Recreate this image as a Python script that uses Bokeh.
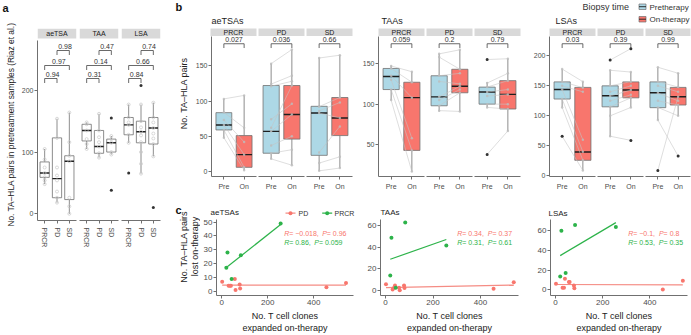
import numpy as np
from bokeh.plotting import figure
from bokeh.layouts import row, column
from bokeh.models import Range1d, FixedTicker, ColumnDataSource
from bokeh.core.properties import value
from bokeh.embed import file_html
from bokeh.resources import INLINE

# ------------------------------------------------------------------ data
# Panel a: pretreatment samples (Riaz et al.); stats = [low whisker, Q1, median, Q3, high whisker]
a_groups = ["aeTSA", "TAA", "LSA"]
a_responses = ["PRCR", "PD", "SD"]
a_ylabel = "No. TA–HLA pairs in pretreatment samples (Riaz et al.)"
a_stats_aetsa = [[48, 59, 66, 84, 105], [18, 26, 57, 123, 154], [0, 23, 85, 94, 164]]
a_stats_taa = [[105, 118, 135, 145, 148], [91, 98, 109, 135, 162], [96, 100, 115, 121, 126]]
a_stats_lsa = [[115, 128, 144, 156, 177], [65, 115, 133, 150, 177], [93, 113, 139, 156, 180]]
a_out_aetsa = [[], [], []]
a_out_taa = [[], [], [155, 38]]
a_out_lsa = [[66], [208], [10]]
a_pts_aetsa = [[105, 88, 75, 66, 59, 54, 48], [154, 123, 75, 62, 54, 36, 26, 18], [164, 116, 94, 85, 26, 12, 0]]
a_pts_taa = [[148, 145, 135, 121, 113, 105], [162, 135, 124, 116, 109, 98, 91], [126, 121, 115, 100, 96]]
a_pts_lsa = [[177, 156, 148, 144, 128, 115], [177, 150, 140, 133, 127, 116, 100, 81, 65],
             [180, 156, 148, 139, 130, 122, 113, 93]]
a_pairs = [(1, 2), (1, 3), (2, 3)]
a_pvals_aetsa = ["0.94", "0.97", "0.98"]
a_pvals_taa = ["0.31", "0.14", "0.47"]
a_pvals_lsa = ["0.84", "0.66", "0.74"]

# Panel b: pre vs on therapy
b_antigens = ["aeTSAs", "TAAs", "LSAs"]
b_responses = ["PRCR", "PD", "SD"]
b_times = ["Pre", "On"]
b_legend_title = "Biopsy time"
b_legend = ["Pretherapy", "On-therapy"]
b_ylabel = "No. TA–HLA pairs"
b_aetsa_pre = [[48, 59, 66, 83.5, 103], [18, 26, 57, 122, 153], [1, 23, 83, 92.5, 161.5]]
b_aetsa_on = [[2, 6, 24, 51, 108], [9, 46, 81, 122, 173], [5, 51, 76, 105, 165]]
b_aetsa_pre_out = [[], [], []]
b_aetsa_on_out = [[], [], []]
b_aetsa_pre_pts = [[103, 84, 73, 66, 59, 48], [153, 124, 121, 74, 62, 57, 37, 26, 18], [161, 92, 86, 83, 27, 12, 1]]
b_aetsa_on_pts = [[108, 62, 42, 24, 6, 2], [173, 136, 128, 96, 122, 81, 50, 31, 9], [165, 105, 98, 76, 64, 21, 5]]
b_aetsa_p = ["0.027", "0.036", "0.66"]

b_taa_pre = [[105, 118, 134, 144, 147.5], [91, 98, 109, 135, 162], [96, 100, 115, 121, 127]]
b_taa_on = [[17, 43, 108, 127, 140], [91, 114, 122, 143, 167], [67, 94, 112, 129, 156]]
b_taa_pre_out = [[], [], [155, 38]]
b_taa_on_out = [[], [], []]
b_taa_pre_pts = [[147, 144, 135, 130, 118, 105], [162, 158, 135, 128, 109, 105, 98, 92],
                 [155, 126, 121, 115, 110, 100, 96, 38]]
b_taa_on_pts = [[140, 127, 108, 58, 43, 17], [167, 143, 138, 125, 122, 118, 114, 91],
                [156, 138, 129, 118, 112, 100, 94, 67]]
b_taa_p = ["0.059", "0.2", "0.79"]

b_lsa_pre = [[114, 128, 144, 156.6, 177.6], [65.6, 115, 133.5, 150, 176], [93, 113.6, 138.4, 156.6, 180.5]]
b_lsa_on = [[9.3, 25.8, 39.7, 147.4, 156.6], [114, 130, 143, 156.6, 173], [100, 118, 131.8, 147.4, 171.5]]
b_lsa_pre_out = [[66], [193], [9]]
b_lsa_on_out = [[], [212, 59], [33]]
b_lsa_pre_pts = [[178, 157, 150, 144, 128, 114, 66], [193, 176, 150, 140, 133, 125, 115, 100, 66],
                 [181, 157, 150, 138, 125, 114, 93, 9]]
b_lsa_on_pts = [[157, 147, 140, 60, 40, 26, 9], [212, 173, 157, 150, 143, 135, 130, 114, 59],
                [171, 148, 140, 125, 118, 100, 33, 132]]
b_lsa_p = ["0.03", "0.39", "0.99"]

# Panel c: clones expanded vs pairs lost
c_groups = ["PD", "PRCR"]
c_xlabel = "No. T cell clones\nexpanded on-therapy"
c_ylabel = ["No. TA–HLA pairs", "lost on-therapy"]
c_pd_clones = [2, 30, 36, 40, 57, 60, 78, 80, 455, 540]
c_prcr_clones = [20, 25, 43, 83, 256]
c_aetsa_pd = [7, 4, 4, 4, 9, 1, 5, 2, 3, 6]
c_aetsa_prcr = [17, 28, 9, 26, 49]
c_taa_pd = [6, 1.2, 2.8, 5, 2.8, 0.5, 5, 2.6, 2, 8]
c_taa_prcr = [14, 48.5, 2.9, 62.5, 41.5]
c_lsa_pd = [6, 2, 2, 11, 7.7, 7.7, 4.3, 1.4, 0, 9]
c_lsa_prcr = [13.3, 60, 17, 66, 64]
c_ann_aetsa = ["R = −0.018, P = 0.96", "R = 0.86, P = 0.059"]
c_ann_taa = ["R = 0.34, P = 0.37", "R = 0.31, P = 0.61"]
c_ann_lsa = ["R = −0.1, P = 0.8", "R = 0.53, P = 0.35"]

# ------------------------------------------------------------------ style
FONT = "Liberation Sans"
AX = "#707070"
TICK_TXT = "#4D4D4D"
LBL_TXT = "#222222"
STRIP = "#D9D9D9"
BLUE = "#ADD8E6"
RED = "#F8766D"
GREEN = "#2DB34A"
LINE_RED = "#F58C84"
MED = "#1E1E1E"
PT = "#BDBDBD"

# Arial / Liberation Sans advance widths (em)
AW = {" ": .278, "(": .333, ")": .333, ".": .278, ",": .278, "-": .333, "–": .556, "=": .584, "−": .584,
      "A": .667, "H": .722, "L": .556, "N": .722, "P": .667, "R": .722, "T": .611,
      "a": .556, "e": .556, "h": .556, "i": .222, "l": .222, "m": .833, "n": .556, "o": .556,
      "p": .556, "r": .333, "s": .5, "t": .278, "y": .5, "z": .5}


def tlen(s, size):
    return sum(AW.get(ch, 0.556) for ch in s) * size


def base_fig(w, h, xr, yr, lb, rb, tb, bb, x_axis=True, y_axis=True):
    p = figure(width=w, height=h, x_range=Range1d(*xr), y_range=Range1d(*yr),
               output_backend="svg", toolbar_location=None, title=None,
               min_border_left=lb, min_border_right=rb, min_border_top=tb, min_border_bottom=bb,
               x_axis_location="below" if x_axis else None,
               y_axis_location="left" if y_axis else None)
    p.xgrid.visible = False
    p.ygrid.visible = False
    p.outline_line_color = None
    p.background_fill_color = "white"
    p.border_fill_color = "white"
    return p


def text_fig(x0, x1, top, bottom):
    """blank figure whose data coordinates are page pixels (y negated so it points up)"""
    return base_fig(x1 - x0, bottom - top, (x0, x1), (-bottom, -top), 0, 0, 0, 0, x_axis=False, y_axis=False)


def head_fig(x0, x1, top, bottom):
    """blank figure whose data coordinates are page pixels (y pointing down)"""
    return base_fig(x1 - x0, bottom - top, (x0, x1), (bottom, top), 0, 0, 0, 0, x_axis=False, y_axis=False)


def style_axis(ax, size, ticks, overrides=None, standoff=2, tick_out=3):
    ax.ticker = FixedTicker(ticks=ticks)
    ax.axis_line_color = AX
    ax.axis_line_width = 1
    ax.major_tick_line_color = AX
    ax.minor_tick_line_color = None
    ax.major_tick_in = 0
    ax.major_tick_out = tick_out
    ax.major_label_text_font = FONT
    ax.major_label_text_font_size = size
    ax.major_label_text_color = TICK_TXT
    ax.major_label_standoff = standoff
    ax.axis_label_text_font = FONT
    ax.axis_label_text_font_style = "normal"
    ax.axis_label_text_color = LBL_TXT
    ax.axis_label_text_font_size = "9px"
    if overrides:
        ax.major_label_overrides = overrides


def py(yr, fh, px):
    """data y at px below the frame top"""
    return yr[1] - px * (yr[1] - yr[0]) / fh


def txt(p, x, y, t, size, color=LBL_TXT, align="left", baseline="middle", style="normal", angle=0):
    p.text(x=x, y=y, text=t, text_font=value(FONT), text_font_size=size, text_color=color,
           text_align=align, text_baseline=baseline, text_font_style=style, angle=angle)


def vlabel(p, x, center_y, s, size):
    """vertical label reading upwards, centred on page y = center_y"""
    start = center_y + tlen(s, size) / 2
    txt(p, [x], [-start], [s], "%dpx" % size, LBL_TXT, "left", "middle", angle=np.pi / 2)


def draw_boxes(p, xs, stats, fills, width, line_w=0.8):
    s = np.array(stats, dtype=float)
    xs = np.asarray(xs, dtype=float)
    src = ColumnDataSource(dict(x=xs, lo=s[:, 0], q1=s[:, 1], med=s[:, 2], q3=s[:, 3], hi=s[:, 4],
                                l=xs - width / 2, r=xs + width / 2, fill=fills))
    p.segment("x", "q3", "x", "hi", source=src, line_color=AX, line_width=line_w)
    p.segment("x", "q1", "x", "lo", source=src, line_color=AX, line_width=line_w)
    p.vbar(x="x", width=width, bottom="q1", top="q3", fill_color="fill", line_color=AX,
           line_width=line_w, source=src)
    p.segment("l", "med", "r", "med", source=src, line_color=MED, line_width=1.4)


# ------------------------------------------------------------------ panel a
A_W, A_HDR, A_H = 170, 20, 315
A_TOP, A_FH, A_FW = 8, 192, 39
A_Y = (-10.9, 300.2)
A_X = (0.42, 3.58)
A_BW = 0.75
a_borders = [(37, 2), (1, 2), (1, 10)]
a_all = [(a_stats_aetsa, a_out_aetsa, a_pts_aetsa, a_pvals_aetsa),
         (a_stats_taa, a_out_taa, a_pts_taa, a_pvals_taa),
         (a_stats_lsa, a_out_lsa, a_pts_lsa, a_pvals_lsa)]

ha = head_fig(0, A_W, 0, A_HDR)
txt(ha, [2], [13.5], ["a"], "11px", "#111111", "left", "bottom", "bold")

a_figs = []
for gi, (stats, outs, pts, pvals) in enumerate(a_all):
    lb, rb = a_borders[gi]
    p = base_fig(lb + A_FW + rb, A_H, A_X, A_Y, lb, rb, A_TOP, A_H - A_TOP - A_FH, y_axis=(gi == 0))
    yb = py(A_Y, A_FH, 10)
    p.quad(left=[A_X[0]], right=[A_X[1]], bottom=[yb], top=[A_Y[1]], fill_color=STRIP, line_color=None)
    txt(p, [(A_X[0] + A_X[1]) / 2], [(yb + A_Y[1]) / 2], [a_groups[gi]], "7px", "#1A1A1A", "center")
    xs = np.arange(1, len(a_responses) + 1)
    draw_boxes(p, xs, stats, ["white"] * 3, A_BW)
    px_, py_ = [], []
    for k, v in enumerate(pts):
        px_ += [xs[k]] * len(v)
        py_ += v
    p.scatter(px_, py_, size=3, fill_color=None, line_color="#C9C9C9", line_width=0.7)
    ox, oy = [], []
    for k, v in enumerate(outs):
        ox += [xs[k]] * len(v)
        oy += v
    p.scatter(ox, oy, size=3, fill_color="#333333", line_color=None)
    for (i, j), lp, pv in zip(a_pairs, [50, 37, 22], pvals):
        yl, yt = py(A_Y, A_FH, lp), py(A_Y, A_FH, lp + 4.5)
        p.line([i, i, j, j], [yt, yl, yl, yt], line_color="#444444", line_width=0.8)
        txt(p, [(i + j) / 2 + 0.15], [py(A_Y, A_FH, lp - 2)], [pv], "7px", "#333333", "center", "bottom")
    xa = p.xaxis[0]
    style_axis(xa, "7px", list(xs), {int(x): r for x, r in zip(xs, a_responses)}, standoff=4)
    xa.major_label_orientation = "vertical"
    if gi == 0:
        ya = p.yaxis[0]
        style_axis(ya, "7px", [0, 100, 200], standoff=1)
        ya.bounds = (A_Y[0], py(A_Y, A_FH, 12))
        ya.axis_label = a_ylabel
        ya.axis_label_text_font_size = "8.4px"
        ya.axis_label_standoff = 3
    a_figs.append(p)

# ------------------------------------------------------------------ panel b
B_HDR, B_FH, B_BB = 36, 141, 15
B_X = (0.39, 2.61)
B_BW = 0.78
B_LBL_W = 22
b_yranges = [(-7.0, 191.5), (10.8, 183.4), (-1.2, 232.3)]
b_yticks = [[0, 50, 100, 150], [50, 100, 150], [0, 50, 100, 150, 200]]
b_borders = [[(18, 1), (1, 1), (1, 1)], [(25, 1), (1, 1), (1, 1)], [(28, 1), (1, 1), (1, 1)]]
b_fws = [[46, 46, 46], [46, 46, 46], [46, 46, 45]]
b_all = [(b_aetsa_pre, b_aetsa_on, b_aetsa_pre_out, b_aetsa_on_out, b_aetsa_pre_pts, b_aetsa_on_pts, b_aetsa_p),
         (b_taa_pre, b_taa_on, b_taa_pre_out, b_taa_on_out, b_taa_pre_pts, b_taa_on_pts, b_taa_p),
         (b_lsa_pre, b_lsa_on, b_lsa_pre_out, b_lsa_on_out, b_lsa_pre_pts, b_lsa_on_pts, b_lsa_p)]

lbf = text_fig(170, 170 + B_LBL_W, B_HDR, B_HDR + B_FH + B_BB)
vlabel(lbf, 183.3, 103, b_ylabel, 9)
b_figs = [lbf]
frame_spans = []
xcur = 170 + B_LBL_W
for ai, (pre, on, pre_o, on_o, pre_p, on_p, pv) in enumerate(b_all):
    yr = b_yranges[ai]
    for ri in range(3):
        lb, rb = b_borders[ai][ri]
        fw = b_fws[ai][ri]
        frame_spans.append((xcur + lb, xcur + lb + fw))
        xcur += lb + fw + rb
        p = base_fig(lb + fw + rb, B_FH + B_BB, B_X, yr, lb, rb, 0, B_BB, y_axis=(ri == 0))
        xs = np.array([1, 2])
        draw_boxes(p, xs, [pre[ri], on[ri]], [BLUE, RED], B_BW)
        n = len(pre_p[ri])
        p.multi_line(xs=[[1, 2]] * n, ys=[[a, b] for a, b in zip(pre_p[ri], on_p[ri])],
                     line_color="#C4C4C4", line_alpha=0.8, line_width=0.7)
        p.scatter([1] * n + [2] * n, pre_p[ri] + on_p[ri], size=2.5, fill_color=PT, line_color=None,
                  fill_alpha=0.8)
        ox = [1] * len(pre_o[ri]) + [2] * len(on_o[ri])
        p.scatter(ox, pre_o[ri] + on_o[ri], size=3, fill_color="#333333", line_color=None)
        yl, yt = py(yr, B_FH, 7.3), py(yr, B_FH, 11.6)
        p.line([1, 1, 2, 2], [yt, yl, yl, yt], line_color="#444444", line_width=0.8)
        txt(p, [1.5], [py(yr, B_FH, 6.0)], [pv[ri]], "7px", "#333333", "center", "bottom")
        xa = p.xaxis[0]
        style_axis(xa, "7px", [1, 2], {1: b_times[0], 2: b_times[1]}, standoff=3)
        if ri == 0:
            ya = p.yaxis[0]
            style_axis(ya, "7px", b_yticks[ai], standoff=1)
        b_figs.append(p)

# header for panel b
hb = head_fig(170, 691, 0, B_HDR)
txt(hb, [175], [12], ["b"], "11px", "#111111", "left", "bottom", "bold")
txt(hb, [211, 381, 555], [20, 20, 20], b_antigens, "9px", LBL_TXT)
hb.quad(left=[s[0] for s in frame_spans], right=[s[1] for s in frame_spans],
        bottom=[35.5] * 9, top=[28] * 9, fill_color=STRIP, line_color=None)
txt(hb, [(s[0] + s[1]) / 2 for s in frame_spans], [31.9] * 9, b_responses * 3, "7px", "#1A1A1A", "center")
txt(hb, [582], [6.5], [b_legend_title], "9px", "#333333")
hb.quad(left=[638.5, 638.5], right=[645.5, 645.5], top=[3.5, 16], bottom=[9, 21.5],
        fill_color=[BLUE, RED], line_color=AX, line_width=0.7)
hb.segment(x0=[638.5, 638.5], x1=[645.5, 645.5], y0=[6.2, 18.7], y1=[6.2, 18.7], line_color=MED, line_width=0.9)
txt(hb, [649, 649], [6.5, 18.8], b_legend, "8px", "#333333")

# ------------------------------------------------------------------ panel c
C_TOP, C_HDR, C_H = 192, 27, 116
C_LBL_W = 30
c_layout = [(14, 139, 7, 79), (20, 138, 7, 78), (25, 137, 4, 78)]
c_xranges = [(-22.7, 572.6), (-21.1, 560.0), (-21.2, 559.8)]
c_yranges = [(-3.0, 51.9), (-4.2, 65.2), (-6.0, 71.6)]
c_yticks = [[0, 10, 20, 30, 40, 50], [0, 20, 40, 60], [0, 20, 40, 60]]
c_ann_x = [68.7, 76.7, 77.7]
c_all = [(c_aetsa_pd, c_aetsa_prcr, c_ann_aetsa), (c_taa_pd, c_taa_prcr, c_ann_taa),
         (c_lsa_pd, c_lsa_prcr, c_ann_lsa)]

lcf = text_fig(170, 170 + C_LBL_W, C_TOP, C_TOP + C_HDR + C_H)
txt(lcf, [175], [-209.5], ["c"], "11px", "#111111", "left", "middle", "bold")
vlabel(lcf, 183.2, 246, c_ylabel[0], 9)
vlabel(lcf, 194.8, 246, c_ylabel[1], 9)

c_figs = []
for ci, (pdv, prv, ann) in enumerate(c_all):
    lb, fw, rb, fh = c_layout[ci]
    xr, yr = c_xranges[ci], c_yranges[ci]
    p = base_fig(lb + fw + rb, C_H, xr, yr, lb, rb, 0, C_H - fh, y_axis=True)
    for xv, yv, col, lcol in [(c_pd_clones, pdv, RED, LINE_RED), (c_prcr_clones, prv, GREEN, GREEN)]:
        k, b0 = np.polyfit(xv, yv, 1)
        x0, x1 = min(xv), max(xv)
        p.line([x0, x1], [k * x0 + b0, k * x1 + b0], line_color=lcol, line_width=1.2)
        p.scatter(xv, yv, size=4, fill_color=col, line_color=None)
    xppu = fw / (xr[1] - xr[0])
    for li, (s, col) in enumerate(zip(ann, [RED, GREEN])):
        yv = py(yr, fh, [14.3, 23.5][li])
        rpart, ppart = s.split(", ")
        pieces = [("R", "italic"), (rpart[1:] + ", ", "normal"), ("P", "italic"), (ppart[1:], "normal")]
        off = c_ann_x[ci]
        for ptxt, pst in pieces:
            txt(p, [xr[0] + off / xppu], [yv], [ptxt], "7px", col, "left", "middle", pst)
            off += tlen(ptxt, 7)
    xa = p.xaxis[0]
    style_axis(xa, "8px", [0, 200, 400], standoff=1)
    xa.axis_label = c_xlabel
    xa.axis_label_standoff = 3
    ya = p.yaxis[0]
    style_axis(ya, "8px", c_yticks[ci], standoff=1)
    c_figs.append(p)

# header for panel c (right of the label strip)
hc = head_fig(170 + C_LBL_W, 691, C_TOP, C_TOP + C_HDR)
txt(hc, [210, 380, 548], [212, 212, 213], b_antigens, "8px", LBL_TXT)
hc.segment(x0=[285, 321.7], x1=[295, 331.7], y0=[212.7, 212.7], y1=[212.7, 212.7],
           line_color=[LINE_RED, GREEN], line_width=1.2)
hc.scatter([290, 326.7], [212.7, 212.7], size=4, fill_color=[RED, GREEN], line_color=None)
txt(hc, [298, 334], [212.9, 212.9], c_groups, "7px", "#333333")

layout = row(
    column(ha, row(*a_figs)),
    column(hb, row(*b_figs), row(lcf, column(hc, row(*c_figs)))),
)
open("out.html", "w").write(file_html(layout, INLINE))
